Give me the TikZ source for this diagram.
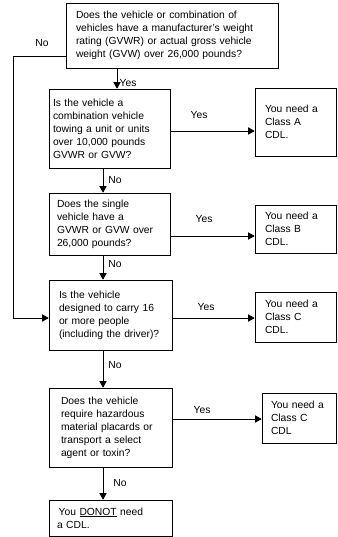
\documentclass[tikz,border=0pt]{standalone}
\usepackage{fontspec}
\setmainfont{Liberation Sans}
\usetikzlibrary{arrows}

\begin{document}
\begin{tikzpicture}[x=1pt, y=-1pt, >=triangle 60, line width=0.75pt,
  every node/.style={font=\fontsize{10.3}{13}\selectfont},
  qbox/.style n args={3}{draw, rectangle, inner ysep=0pt, inner xsep=#3,
    minimum width=#1, minimum height=#2, align=left},
  lbl/.style={inner sep=1pt}]
\useasboundingbox (0,0) rectangle (337,537);

% questions
\node[qbox={212pt}{65pt}{10pt}, text width=192pt] (q1) at (172,35.5)
  {Does the vehicle or combination of\\vehicles have a manufacturer's weight\\rating (GVWR) or actual gross vehicle\\weight (GVW) over 26,000 pounds?};
\node[qbox={121pt}{79pt}{4pt}, text width=113pt] (q2) at (109.5,128.5)
  {Is the vehicle a\\combination vehicle\\towing a unit or units\\over 10,000 pounds\\GVWR or GVW?};
\node[qbox={121pt}{62pt}{8pt}, text width=105pt] (q3) at (109.5,224)
  {Does the single\\vehicle have a\\GVWR or GVW over\\26,000 pounds?};
\node[qbox={123pt}{70pt}{10pt}, text width=103pt] (q4) at (110.5,315)
  {Is the vehicle\\designed to carry 16\\or more people\\(including the driver)?};
\node[qbox={123pt}{79pt}{12pt}, text width=99pt] (q5) at (110.5,427.5)
  {Does the vehicle\\require hazardous\\material placards or\\transport a select\\agent or toxin?};
\node[qbox={123pt}{36pt}{8pt}, text width=107pt] (q6) at (110.5,518)
  {\,You \underline{DONOT} need\\a CDL.};

% answers
\node[qbox={81pt}{68pt}{10pt}, text width=61pt] (a1) at (295.5,122)
  {You need a\\Class A\\CDL.};
\node[qbox={81pt}{48pt}{10pt}, text width=61pt] (a2) at (295.5,229)
  {You need a\\Class B\\CDL.};
\node[qbox={81pt}{50pt}{10pt}, text width=61pt] (a3) at (295.5,317)
  {You need a\\Class C\\CDL.};
\node[qbox={74pt}{50pt}{9pt}, text width=56pt] (a4) at (299,418)
  {You need a\\Class C\\CDL};

% down the chart
\draw[->] (q1.south -| 117,0) -- (q2.north -| 117,0);
\draw[->] (q2.south -| 103,0) -- (q3.north -| 103,0);
\draw[->] (q3.south -| 103,0) -- (q4.north -| 103,0);
\draw[->] (q4.south -| 103,0) -- (q5.north -| 103,0);
\draw[->] (q5.south -| 103,0) -- (q6.north -| 103,0);
\node[lbl] (y0) at (128,83) {Yes};
\node[lbl] (n1) at (115,180) {No};
\node[lbl] (n2) at (115,264) {No};
\node[lbl] (n3) at (115,365) {No};
\node[lbl] (n4) at (120,483) {No};

% across
\draw[->] (q2.east |- 0,131) -- (a1.west |- 0,131);
\draw[->] (q3.east |- 0,236) -- (a2.west |- 0,236);
\draw[->] (q4.east |- 0,318) -- (a3.west |- 0,318);
\draw[->] (q5.east |- 0,419) -- (a4.west |- 0,419);
\node[lbl] (y1) at (199,115) {Yes};
\node[lbl] (y2) at (204,219) {Yes};
\node[lbl] (y3) at (206,307) {Yes};
\node[lbl] (y4) at (202,410) {Yes};

% the no branch on the left
\coordinate (nc) at (13,56);
\draw[->] (q1.west |- nc) -- (nc) |- (q4.west |- 0,318);
\node[lbl] (n0) at (42,43) {No};
\end{tikzpicture}
\end{document}
